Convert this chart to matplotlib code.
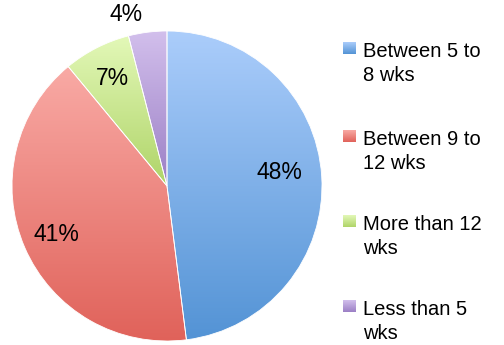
import numpy as np
import matplotlib
matplotlib.use("Agg")
import matplotlib.pyplot as plt
from matplotlib.colors import to_rgb

categories = ["Between 5 to\n8 wks", "Between 9 to\n12 wks", "More than 12\nwks", "Less than 5\nwks"]
shares = [48, 41, 7, 4]
# light (top) and dark (bottom) end of each slice's gradient
tops = ["#abcdfb", "#f9aaa5", "#e3f8b8", "#d2bfec"]
bottoms = ["#5393d5", "#e0625a", "#afd468", "#9b7fc5"]

plt.rcParams["font.family"] = ["Liberation Sans", "DejaVu Sans"]


def gradient(top, bottom, n=256):
    # rows run bottom -> top
    t = np.linspace(0, 1, n)[:, None]
    a = np.array(to_rgb(bottom))
    b = np.array(to_rgb(top))
    return (a + (b - a) * t)[:, None, :]


fig = plt.figure(figsize=(5.04, 3.45), dpi=100)
ax = fig.add_axes([12 / 504, 4 / 345, 310 / 504, 310 / 345])

wedges, texts, pcts = ax.pie(shares, startangle=90, counterclock=False,
                             autopct="%d%%", pctdistance=0.78,
                             wedgeprops=dict(edgecolor="white", linewidth=0.6),
                             textprops=dict(fontsize=16.5, color="black"))

for w, top, bot in zip(wedges, tops, bottoms):
    ext = w.get_path().get_extents()
    w.set_facecolor("none")
    im = ax.imshow(gradient(top, bot), extent=(ext.x0, ext.x1, ext.y0, ext.y1),
                   origin="lower", aspect="auto", zorder=0.5, interpolation="bilinear")
    im.set_clip_path(w)

# big slice label pulled in, small slice label sits outside the pie
pcts[0].set_position((0.73 * np.cos(np.radians(7)), 0.73 * np.sin(np.radians(7))))
pcts[3].set_position((1.14 * np.cos(np.radians(103.5)), 1.14 * np.sin(np.radians(103.5))))
pcts[3].set_clip_on(False)

ax.set_xlim(-1, 1)
ax.set_ylim(-1, 1)
ax.set_aspect("equal")
ax.axis("off")

# legend on the right, in pixel units
lg = fig.add_axes([0, 0, 1, 1], facecolor="none")
rows = [48, 136, 221, 306]
for y, lab, top, bot in zip(rows, categories, tops, bottoms):
    lg.imshow(gradient(top, bot), extent=(343, 356, y + 6, y - 6), origin="lower",
              aspect="auto", interpolation="bilinear")
    lg.text(363, y - 6, lab, fontsize=14.5, va="top", ha="left",
            linespacing=1.33)
lg.set_xlim(0, 504)
lg.set_ylim(345, 0)
lg.axis("off")

fig.savefig("out.png", dpi=100)
